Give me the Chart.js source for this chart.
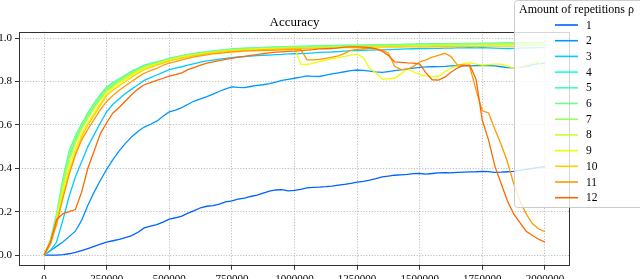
<!DOCTYPE html>
<html>
<head>
<meta charset="utf-8">
<script src="https://cdn.jsdelivr.net/npm/chart.js"></script>
<style>
  html, body { margin: 0; padding: 0; background: #fff; }
  canvas { display: block; }
</style>
</head>
<body>
<canvas id="accChart" width="640" height="279"></canvas>
<script>
// training steps (x), one entry per logged point
var steps = [
  0, 25000, 50000, 75000, 100000, 125000, 150000, 175000, 200000, 225000,
  250000, 275000, 300000, 325000, 350000, 375000, 400000, 425000, 450000, 475000,
  500000, 525000, 550000, 575000, 600000, 625000, 650000, 675000, 700000, 725000,
  750000, 775000, 800000, 825000, 850000, 875000, 900000, 925000, 950000, 975000,
  1000000, 1025000, 1050000, 1075000, 1100000, 1125000, 1150000, 1175000, 1200000, 1225000,
  1250000, 1275000, 1300000, 1325000, 1350000, 1375000, 1400000, 1425000, 1450000, 1475000,
  1500000, 1525000, 1550000, 1575000, 1600000, 1625000, 1650000, 1675000, 1700000, 1725000,
  1750000, 1775000, 1800000, 1825000, 1850000, 1875000, 1900000, 1925000, 1950000, 1975000,
  2000000
];

var repLabels = ['1', '2', '3', '4', '5', '6', '7', '8', '9', '10', '11', '12'];

var rep1 = [0,0,0,0.002,0.006,0.012,0.02,0.03,0.04,0.05,
  0.06,0.066,0.072,0.08,0.09,0.105,0.125,0.133,0.14,0.152,
  0.166,0.172,0.18,0.193,0.205,0.218,0.225,0.228,0.235,0.245,
  0.25,0.258,0.262,0.27,0.276,0.286,0.295,0.3,0.302,0.296,
  0.298,0.303,0.31,0.312,0.313,0.315,0.318,0.322,0.326,0.33,
  0.336,0.34,0.345,0.352,0.36,0.364,0.368,0.37,0.372,0.375,
  0.376,0.373,0.376,0.379,0.38,0.379,0.381,0.382,0.383,0.384,
  0.386,0.385,0.381,0.382,0.384,0.386,0.39,0.395,0.4,0.404,
  0.408];
var rep2 = [0,0.02,0.04,0.06,0.085,0.11,0.16,0.23,0.29,0.345,
  0.395,0.44,0.48,0.515,0.545,0.57,0.59,0.603,0.617,0.64,
  0.66,0.668,0.68,0.695,0.71,0.72,0.73,0.742,0.755,0.766,
  0.775,0.773,0.772,0.777,0.782,0.785,0.79,0.797,0.805,0.81,
  0.815,0.82,0.826,0.824,0.823,0.829,0.835,0.84,0.845,0.85,
  0.853,0.851,0.848,0.844,0.842,0.846,0.85,0.854,0.858,0.862,
  0.865,0.867,0.868,0.869,0.87,0.872,0.873,0.872,0.872,0.873,
  0.873,0.873,0.872,0.868,0.864,0.863,0.865,0.87,0.878,0.882,
  0.885];
var rep3 = [0,0.02,0.06,0.16,0.27,0.36,0.43,0.5,0.555,0.61,
  0.66,0.695,0.72,0.745,0.765,0.785,0.805,0.818,0.83,0.842,
  0.855,0.862,0.868,0.875,0.882,0.889,0.895,0.899,0.903,0.907,
  0.91,0.913,0.915,0.917,0.919,0.921,0.922,0.924,0.925,0.927,
  0.928,0.929,0.93,0.932,0.934,0.935,0.936,0.938,0.94,0.942,
  0.943,0.944,0.945,0.946,0.946,0.947,0.948,0.949,0.95,0.951,
  0.952,0.952,0.953,0.953,0.954,0.954,0.955,0.955,0.956,0.955,
  0.956,0.955,0.954,0.953,0.952,0.953,0.954,0.955,0.955,0.956,
  0.957];
var rep4 = [0,0.05,0.16,0.32,0.45,0.53,0.59,0.64,0.685,0.725,
  0.76,0.783,0.802,0.82,0.838,0.852,0.865,0.874,0.883,0.891,
  0.9,0.906,0.912,0.918,0.923,0.927,0.931,0.934,0.937,0.94,
  0.943,0.945,0.947,0.949,0.95,0.951,0.952,0.953,0.954,0.955,
  0.956,0.957,0.958,0.958,0.959,0.96,0.961,0.961,0.962,0.963,
  0.963,0.964,0.965,0.965,0.966,0.966,0.967,0.968,0.968,0.969,
  0.969,0.97,0.97,0.971,0.971,0.972,0.972,0.972,0.973,0.973,
  0.973,0.974,0.974,0.974,0.975,0.975,0.975,0.975,0.976,0.976,
  0.976];
var rep5 = [0,0.07,0.19,0.35,0.48,0.55,0.605,0.655,0.7,0.74,
  0.775,0.795,0.812,0.83,0.848,0.862,0.875,0.883,0.89,0.898,
  0.907,0.913,0.919,0.925,0.93,0.934,0.938,0.941,0.944,0.947,
  0.95,0.952,0.954,0.955,0.956,0.957,0.958,0.959,0.96,0.961,
  0.962,0.963,0.963,0.964,0.964,0.965,0.966,0.966,0.967,0.967,
  0.968,0.968,0.969,0.969,0.97,0.97,0.971,0.971,0.972,0.972,
  0.973,0.973,0.974,0.974,0.975,0.975,0.975,0.976,0.976,0.976,
  0.977,0.977,0.977,0.978,0.978,0.978,0.979,0.979,0.979,0.98,
  0.98];
var rep6 = [0,0.06,0.18,0.34,0.47,0.545,0.6,0.65,0.695,0.735,
  0.77,0.79,0.808,0.826,0.844,0.858,0.871,0.88,0.888,0.896,
  0.905,0.911,0.917,0.923,0.928,0.932,0.936,0.939,0.942,0.945,
  0.948,0.95,0.952,0.953,0.954,0.955,0.956,0.957,0.958,0.959,
  0.96,0.961,0.961,0.962,0.963,0.963,0.964,0.965,0.965,0.966,
  0.966,0.967,0.967,0.968,0.968,0.969,0.969,0.97,0.97,0.971,
  0.971,0.972,0.972,0.972,0.973,0.973,0.974,0.974,0.974,0.975,
  0.975,0.975,0.976,0.976,0.976,0.977,0.977,0.977,0.978,0.978,
  0.978];
var rep7 = [0,0.06,0.17,0.33,0.46,0.54,0.595,0.645,0.69,0.73,
  0.765,0.787,0.805,0.823,0.84,0.855,0.868,0.877,0.886,0.894,
  0.903,0.909,0.915,0.921,0.926,0.93,0.934,0.937,0.94,0.943,
  0.946,0.948,0.95,0.951,0.952,0.953,0.954,0.955,0.956,0.957,
  0.958,0.959,0.96,0.96,0.961,0.962,0.962,0.963,0.964,0.964,
  0.965,0.965,0.966,0.966,0.967,0.967,0.968,0.968,0.969,0.969,
  0.97,0.97,0.971,0.971,0.971,0.972,0.972,0.973,0.973,0.973,
  0.974,0.974,0.974,0.975,0.975,0.975,0.975,0.976,0.976,0.976,
  0.977];
var rep8 = [0,0.06,0.17,0.31,0.43,0.515,0.58,0.63,0.675,0.718,
  0.755,0.778,0.798,0.816,0.834,0.85,0.864,0.873,0.882,0.89,
  0.899,0.905,0.911,0.916,0.921,0.925,0.929,0.933,0.936,0.939,
  0.941,0.943,0.945,0.947,0.948,0.949,0.95,0.951,0.952,0.953,
  0.954,0.955,0.955,0.956,0.957,0.957,0.958,0.959,0.959,0.96,
  0.96,0.961,0.961,0.962,0.962,0.963,0.963,0.964,0.964,0.965,
  0.965,0.966,0.966,0.966,0.967,0.967,0.968,0.968,0.968,0.969,
  0.969,0.969,0.97,0.97,0.97,0.971,0.971,0.971,0.972,0.972,
  0.972];
var rep9 = [0,0.06,0.16,0.29,0.4,0.49,0.56,0.61,0.655,0.7,
  0.745,0.77,0.79,0.81,0.828,0.845,0.862,0.872,0.88,0.89,
  0.9,0.907,0.913,0.918,0.922,0.927,0.931,0.935,0.938,0.941,
  0.943,0.945,0.946,0.948,0.949,0.95,0.951,0.952,0.953,0.954,
  0.955,0.88,0.878,0.885,0.892,0.898,0.905,0.91,0.916,0.922,
  0.926,0.91,0.86,0.84,0.81,0.813,0.815,0.835,0.858,0.845,
  0.832,0.826,0.824,0.823,0.845,0.862,0.872,0.882,0.886,0.88,
  0.876,0.878,0.88,0.88,0.872,0.862,0.868,0.875,0.885,0.893,
  0.846];
var rep10 = [0,0.05,0.15,0.27,0.38,0.47,0.545,0.6,0.645,0.69,
  0.735,0.76,0.78,0.8,0.82,0.838,0.855,0.865,0.875,0.885,
  0.895,0.902,0.908,0.914,0.919,0.924,0.928,0.932,0.935,0.938,
  0.94,0.942,0.944,0.945,0.946,0.947,0.948,0.949,0.95,0.951,
  0.952,0.952,0.953,0.953,0.954,0.954,0.955,0.955,0.956,0.956,
  0.957,0.957,0.958,0.958,0.958,0.959,0.959,0.959,0.96,0.96,
  0.96,0.96,0.961,0.961,0.961,0.961,0.962,0.962,0.962,0.962,
  0.962,0.963,0.963,0.963,0.963,0.963,0.963,0.964,0.964,0.964,
  0.964];
var rep11 = [0,0.05,0.14,0.26,0.37,0.46,0.53,0.58,0.625,0.67,
  0.708,0.735,0.76,0.78,0.8,0.82,0.838,0.85,0.86,0.875,
  0.885,0.892,0.9,0.907,0.913,0.918,0.923,0.927,0.93,0.933,
  0.936,0.938,0.94,0.941,0.942,0.943,0.944,0.945,0.946,0.947,
  0.948,0.948,0.9,0.9,0.902,0.907,0.912,0.918,0.93,0.944,
  0.948,0.951,0.954,0.952,0.945,0.93,0.87,0.855,0.856,0.87,
  0.89,0.9,0.912,0.92,0.93,0.915,0.877,0.877,0.868,0.76,
  0.665,0.655,0.58,0.51,0.43,0.33,0.25,0.19,0.145,0.12,
  0.108];
var rep12 = [0,0.06,0.163,0.19,0.2,0.21,0.29,0.4,0.48,0.56,
  0.61,0.655,0.68,0.71,0.74,0.765,0.785,0.795,0.805,0.815,
  0.825,0.832,0.84,0.855,0.865,0.875,0.885,0.89,0.896,0.902,
  0.907,0.912,0.916,0.92,0.924,0.928,0.932,0.935,0.937,0.939,
  0.94,0.942,0.945,0.947,0.95,0.951,0.952,0.955,0.958,0.96,
  0.96,0.958,0.956,0.95,0.94,0.92,0.89,0.888,0.886,0.885,
  0.88,0.84,0.808,0.806,0.82,0.843,0.862,0.874,0.875,0.81,
  0.62,0.53,0.41,0.33,0.25,0.19,0.15,0.11,0.09,0.073,
  0.06];

var xTicks = [0, 250000, 500000, 750000, 1000000, 1250000, 1500000, 1750000, 2000000];
var yTicks = [0, 0.2, 0.4, 0.6, 0.8, 1.0];

var allReps = [rep1, rep2, rep3, rep4, rep5, rep6, rep7, rep8, rep9, rep10, rep11, rep12];
// jet colormap, sampled between ~0.22 and ~0.80
var colors = ['#0061ff', '#0097ff', '#00ccff', '#17ffe0', '#42ffb5', '#6dff8c',
              '#99ff61', '#c4ff35', '#f0fd03', '#ffcc00', '#ff9a00', '#ff6800'];

var serif = '"Liberation Serif", "DejaVu Serif", serif';

var datasets = allReps.map(function(vals, i) {
  return {
    label: repLabels[i],
    data: steps.map(function(x, j) { return { x: x, y: vals[j] }; }),
    borderColor: colors[i],
    borderWidth: 1.3,
    pointRadius: 0,
    fill: false,
    tension: 0,
    order: allReps.length - i   // later runs drawn on top, like matplotlib
  };
});

// frame around the plot area
var framePlugin = {
  id: 'frame',
  afterDatasetsDraw: function(chart) {
    var a = chart.chartArea, ctx = chart.ctx;
    ctx.save();
    ctx.strokeStyle = '#333';
    ctx.lineWidth = 1;
    ctx.strokeRect(Math.round(a.left) + 0.5, Math.round(a.top) + 0.5,
                   Math.round(a.right - a.left) - 1, Math.round(a.bottom - a.top) - 1);
    ctx.restore();
  }
};

// legend box sitting over the top right corner
var legendPlugin = {
  id: 'cornerLegend',
  afterDraw: function(chart) {
    var ctx = chart.ctx;
    var bx = 514.5, by = 0.5, bw = 135, bh = 207, r = 3;
    ctx.save();
    ctx.beginPath();
    ctx.moveTo(bx + r, by);
    ctx.lineTo(bx + bw - r, by);
    ctx.arcTo(bx + bw, by, bx + bw, by + r, r);
    ctx.lineTo(bx + bw, by + bh - r);
    ctx.arcTo(bx + bw, by + bh, bx + bw - r, by + bh, r);
    ctx.lineTo(bx + r, by + bh);
    ctx.arcTo(bx, by + bh, bx, by + bh - r, r);
    ctx.lineTo(bx, by + r);
    ctx.arcTo(bx, by, bx + r, by, r);
    ctx.closePath();
    ctx.fillStyle = 'rgba(255,255,255,0.8)';
    ctx.fill();
    ctx.strokeStyle = '#cccccc';
    ctx.lineWidth = 1;
    ctx.stroke();

    ctx.fillStyle = '#000';
    ctx.font = '12px ' + serif;
    ctx.textBaseline = 'middle';
    ctx.textAlign = 'left';
    ctx.fillText('Amount of repetitions \u03C1', 519, 10);

    ctx.font = '11.5px ' + serif;
    chart.data.datasets.forEach(function(ds, i) {
      var y = 25 + i * 15.7;
      ctx.strokeStyle = ds.borderColor;
      ctx.lineWidth = 1.6;
      ctx.beginPath();
      ctx.moveTo(555, y);
      ctx.lineTo(578, y);
      ctx.stroke();
      ctx.fillStyle = '#000';
      ctx.fillText(ds.label, 586, y + 0.5);
    });
    ctx.restore();
  }
};

var ctx = document.getElementById('accChart').getContext('2d');
var accChart = new Chart(ctx, {
  type: 'line',
  data: { datasets: datasets },
  options: {
    responsive: false,
    animation: false,
    devicePixelRatio: 1,
    layout: { padding: { left: 0, right: 70, top: 0, bottom: 0 } },
    plugins: {
      legend: { display: false },
      tooltip: { enabled: false },
      title: {
        display: true,
        text: 'Accuracy',
        fullSize: false,
        color: '#000',
        font: { family: serif, size: 13, weight: 'normal' },
        padding: { top: 15, bottom: 1 }
      }
    },
    scales: {
      x: {
        type: 'linear',
        min: -100000,
        max: 2100000,
        afterBuildTicks: function(scale) {
          scale.ticks = xTicks.map(function(v) { return { value: v }; });
        },
        afterFit: function(scale) { scale.height = 13.3; },
        ticks: {
          color: '#000',
          font: { family: serif, size: 11 },
          padding: 3,
          maxRotation: 0,
          autoSkip: false,
          callback: function(v) { return String(v); }
        },
        grid: {
          color: '#b0b0b0',
          lineWidth: 0.8,
          tickLength: 4,
          tickColor: '#333',
          tickWidth: 1,
          tickBorderDash: []
        },
        border: { display: false, dash: [1.2, 1.6] }
      },
      y: {
        min: -0.049,
        max: 1.03,
        afterBuildTicks: function(scale) {
          scale.ticks = yTicks.map(function(v) { return { value: v }; });
        },
        afterFit: function(scale) { scale.width = 19; },
        ticks: {
          color: '#000',
          font: { family: serif, size: 11 },
          padding: 3,
          callback: function(v) { return v.toFixed(1); }
        },
        grid: {
          color: '#b0b0b0',
          lineWidth: 0.8,
          tickLength: 4,
          tickColor: '#333',
          tickWidth: 1,
          tickBorderDash: []
        },
        border: { display: false, dash: [1.2, 1.6] }
      }
    }
  },
  plugins: [framePlugin, legendPlugin]
});
</script>
</body>
</html>
